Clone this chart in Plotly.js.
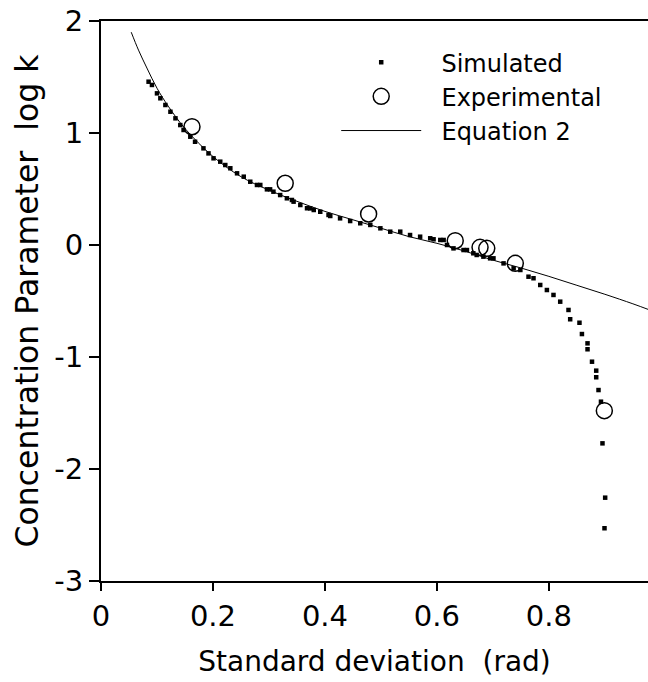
<!DOCTYPE html>
<html>
<head>
<meta charset="utf-8">
<script src="https://cdn.plot.ly/plotly-3.0.1.min.js"></script>
<style>html,body{margin:0;padding:0;background:#fff;}#chart{width:648px;height:682px;}</style>
</head>
<body>
<div id="chart"></div>
<script>
// Simulated (small squares)
const simX = [0.085,0.091,0.100,0.106,0.115,0.124,0.133,0.1416,0.1475,0.1595,0.168,0.183,0.192,0.201,0.213,0.222,0.231,0.243,0.255,0.2666,0.2786,0.2845,0.2964,0.302,0.308,0.320,0.332,0.341,0.344,0.356,0.368,0.3738,0.380,0.3916,0.4064,0.4095,0.427,0.445,0.463,0.481,0.499,0.5166,0.5345,0.552,0.570,0.588,0.594,0.606,0.612,0.618,0.6296,0.6475,0.6536,0.665,0.671,0.683,0.695,0.701,0.719,0.737,0.749,0.7636,0.7725,0.7845,0.7964,0.8082,0.8202,0.835,0.838,0.8546,0.859,0.869,0.869,0.877,0.8845,0.8845,0.8886,0.893,0.8957,0.9005,0.8993];
const simY = [1.458,1.429,1.354,1.310,1.25,1.19,1.131,1.071,1.027,0.967,0.922,0.863,0.818,0.774,0.744,0.714,0.685,0.640,0.610,0.565,0.536,0.536,0.497,0.497,0.476,0.446,0.417,0.402,0.387,0.357,0.328,0.327,0.3125,0.297,0.268,0.259,0.238,0.214,0.194,0.179,0.149,0.119,0.119,0.089,0.074,0.060,0.051,0.045,0.045,0.0,-0.030,-0.045,-0.045,-0.074,-0.089,-0.104,-0.119,-0.119,-0.164,-0.208,-0.223,-0.283,-0.297,-0.357,-0.402,-0.446,-0.506,-0.580,-0.663,-0.694,-0.795,-0.878,-0.931,-1.042,-1.122,-1.181,-1.295,-1.399,-1.771,-2.256,-2.529];

// Experimental (open circles)
const expX = [0.1625,0.329,0.478,0.6327,0.677,0.689,0.740,0.899];
const expY = [1.056,0.551,0.277,0.038,-0.021,-0.030,-0.164,-1.479];

// Equation 2 (thin line)
const eqX = [0.054,0.067,0.082,0.10,0.12,0.15,0.20,0.25,0.30,0.35,0.40,0.45,0.50,0.55,0.60,0.65,0.70,0.75,0.80,0.85,0.90,0.95,0.98];
const eqY = [1.90,1.74,1.58,1.40,1.24,1.04,0.79,0.61,0.49,0.39,0.30,0.225,0.15,0.075,0.015,-0.055,-0.135,-0.205,-0.28,-0.36,-0.44,-0.525,-0.58];

const xTickVals = [0,0.2,0.4,0.6,0.8];
const xTickText = ["0","0.2","0.4","0.6","0.8"];
const yTickVals = [-3,-2,-1,0,1,2];
const yTickText = ["-3","-2","-1","0","1","2"];

const seriesNames = ["Simulated", "Experimental", "Equation 2"];

const FONT = "DejaVu Sans, sans-serif";
const PAD = "\u00a0\u00a0";

const traces = [
  {x: simX, y: simY, mode: "markers", type: "scatter", name: PAD + seriesNames[0],
   marker: {symbol: "square", size: 4.5, color: "#000"}},
  {x: expX, y: expY, mode: "markers", type: "scatter", name: PAD + seriesNames[1],
   marker: {symbol: "circle-open", size: 16, color: "#000", line: {width: 1.5, color: "#000"}}},
  {x: eqX, y: eqY, mode: "lines", type: "scatter", name: PAD + seriesNames[2],
   line: {color: "#000", width: 1, shape: "spline"}}
];

const layout = {
  width: 648, height: 682,
  margin: {l: 101, r: 0, t: 21, b: 101},
  paper_bgcolor: "#fff", plot_bgcolor: "#fff",
  font: {family: FONT, color: "#000"},
  showlegend: true,
  legend: {x: 0.43, y: 0.966, xanchor: "left", yanchor: "top",
    font: {family: FONT, size: 24, color: "#000"}, bgcolor: "rgba(0,0,0,0)",
    itemwidth: 80, tracegroupgap: 0},
  xaxis: {range: [0, 0.977], tickvals: xTickVals, ticktext: xTickText,
    ticks: "outside", ticklen: 8, tickwidth: 1.5, tickcolor: "#000",
    showline: true, linewidth: 2, linecolor: "#000", mirror: true,
    showgrid: false, zeroline: false,
    tickfont: {family: FONT, size: 29, color: "#000"},
    title: {text: "Standard deviation\u00a0 (rad)", font: {family: FONT, size: 28, color: "#000"}, standoff: 20}},
  yaxis: {range: [-3, 2], tickvals: yTickVals, ticktext: yTickText,
    ticks: "outside", ticklen: 10, tickwidth: 1.5, tickcolor: "#000",
    showline: true, linewidth: 2, linecolor: "#000", mirror: false,
    showgrid: false, zeroline: false,
    tickfont: {family: FONT, size: 29, color: "#000"},
    title: {text: "Concentration Parameter\u00a0 log k", font: {family: FONT, size: 31.5, color: "#000"}, standoff: 6}}
};

Plotly.newPlot("chart", traces, layout, {displayModeBar: false, staticPlot: true});
</script>
</body>
</html>
